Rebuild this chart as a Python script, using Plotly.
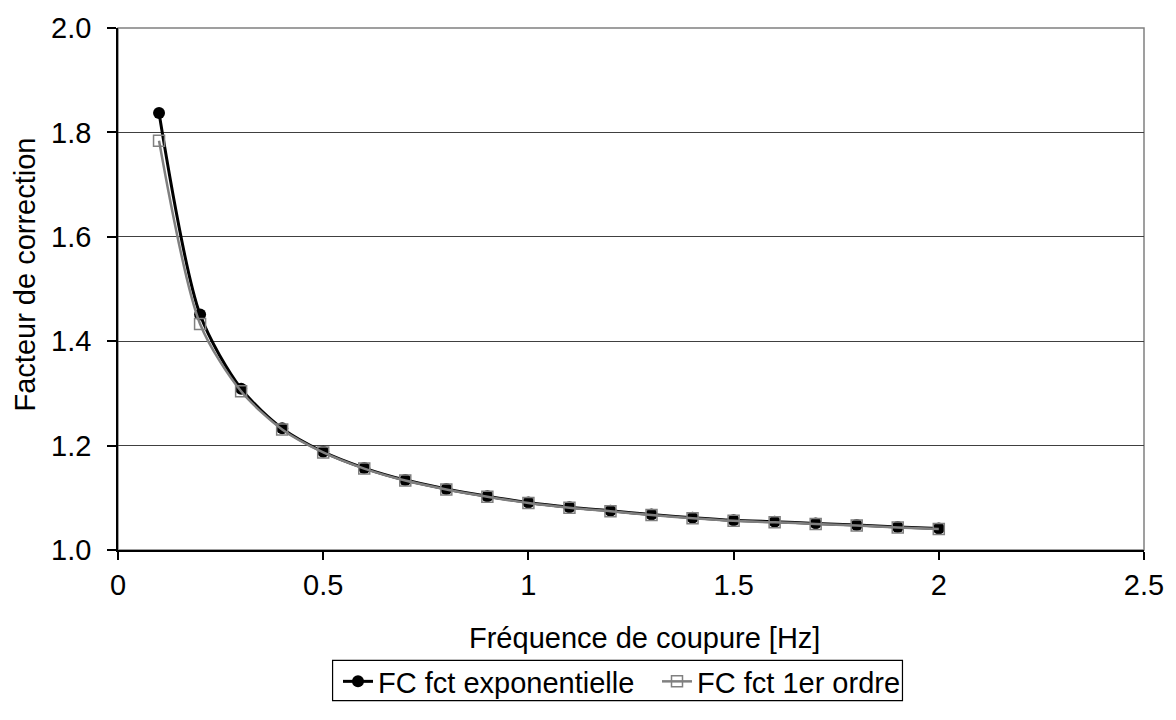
import plotly.graph_objects as go

# Cut-off frequency [Hz]
freq = [0.1, 0.2, 0.3, 0.4, 0.5, 0.6, 0.7, 0.8, 0.9, 1.0,
        1.1, 1.2, 1.3, 1.4, 1.5, 1.6, 1.7, 1.8, 1.9, 2.0]

# Correction factor, exponential function
fc_exp = [1.837, 1.451, 1.309, 1.233, 1.188, 1.157, 1.134, 1.117, 1.103, 1.091,
          1.082, 1.075, 1.068, 1.062, 1.057, 1.054, 1.051, 1.048, 1.044, 1.041]

# Correction factor, first-order function
fc_1er = [1.784, 1.433, 1.304, 1.231, 1.187, 1.156, 1.133, 1.116, 1.102, 1.090,
          1.081, 1.074, 1.067, 1.061, 1.056, 1.053, 1.050, 1.047, 1.043, 1.040]

x_ticks = [0, 0.5, 1, 1.5, 2, 2.5]
x_tick_labels = ["0", "0.5", "1", "1.5", "2", "2.5"]
y_ticks = [1.0, 1.2, 1.4, 1.6, 1.8, 2.0]
y_tick_labels = ["1.0", "1.2", "1.4", "1.6", "1.8", "2.0"]

FONT = "Liberation Sans, Arial, sans-serif"
FS = 29

W, H = 1176, 720
ML, MR, MT, MB = 118, 30, 16, 170
PW, PH = W - ML - MR, H - MT - MB


def px_to_paper_x(px):
    return (px - ML) / PW


def px_to_paper_y(py):
    return (H - MB - py) / PH


fig = go.Figure()

fig.add_trace(go.Scatter(
    x=freq, y=fc_exp, name="FC fct exponentielle",
    mode="lines+markers",
    line=dict(color="black", width=3, shape="spline", smoothing=0.8),
    marker=dict(symbol="circle", size=12, color="black"),
    legendwidth=274,
))

fig.add_trace(go.Scatter(
    x=freq, y=fc_1er, name="FC fct 1er ordre",
    mode="lines+markers",
    line=dict(color="#808080", width=2.5, shape="spline", smoothing=0.8),
    marker=dict(symbol="square-open", size=11, color="#808080",
                line=dict(width=1.5, color="#808080")),
))

# Plot area frame (grey), drawn under the axes
fig.add_shape(type="rect", xref="paper", yref="paper", x0=0, y0=0, x1=1, y1=1,
              line=dict(color="#808080", width=1.5), layer="below")

# Legend frame
fig.add_shape(type="rect", xref="paper", yref="paper",
              x0=px_to_paper_x(333), x1=px_to_paper_x(904),
              y0=px_to_paper_y(704), y1=px_to_paper_y(663),
              line=dict(color="black", width=1.2))

# Axis titles
fig.add_annotation(text="Fréquence de coupure [Hz]", xref="paper", yref="paper",
                   x=0.513, y=px_to_paper_y(640), xanchor="center", yanchor="middle",
                   showarrow=False, font=dict(family=FONT, size=FS, color="black"))
fig.add_annotation(text="Facteur de correction", xref="paper", yref="paper",
                   x=px_to_paper_x(25), y=px_to_paper_y(268),
                   xanchor="center", yanchor="middle",
                   textangle=-90, showarrow=False,
                   font=dict(family=FONT, size=FS, color="black"))

fig.update_layout(
    width=W, height=H,
    margin=dict(l=ML, r=MR, t=MT, b=MB),
    paper_bgcolor="white", plot_bgcolor="white",
    font=dict(family=FONT, size=FS, color="black"),
    showlegend=True,
    legend=dict(
        orientation="h",
        xref="container", yref="container",
        x=338 / W, xanchor="left",
        y=1 - 656 / H, yanchor="top",
        borderwidth=0, bgcolor="rgba(0,0,0,0)",
        font=dict(family=FONT, size=FS, color="black"),
        itemwidth=30, tracegroupgap=0,
    ),
)

fig.update_xaxes(
    range=[0, 2.5], tickvals=x_ticks, ticktext=x_tick_labels,
    showgrid=False, zeroline=False,
    showline=True, linecolor="black", linewidth=1.5,
    ticks="outside", ticklen=8, tickwidth=1.5, tickcolor="black",
    ticklabelstandoff=0,
    tickfont=dict(family=FONT, size=FS, color="black"),
)

fig.update_yaxes(
    range=[1.0, 2.0], tickvals=y_ticks, ticktext=y_tick_labels,
    showgrid=True, gridcolor="#404040", gridwidth=1.2, zeroline=False,
    showline=True, linecolor="black", linewidth=1.5,
    ticks="outside", ticklen=9, tickwidth=1.5, tickcolor="black",
    ticklabelstandoff=10,
    tickfont=dict(family=FONT, size=FS, color="black"),
)

fig.write_html("out.html")
